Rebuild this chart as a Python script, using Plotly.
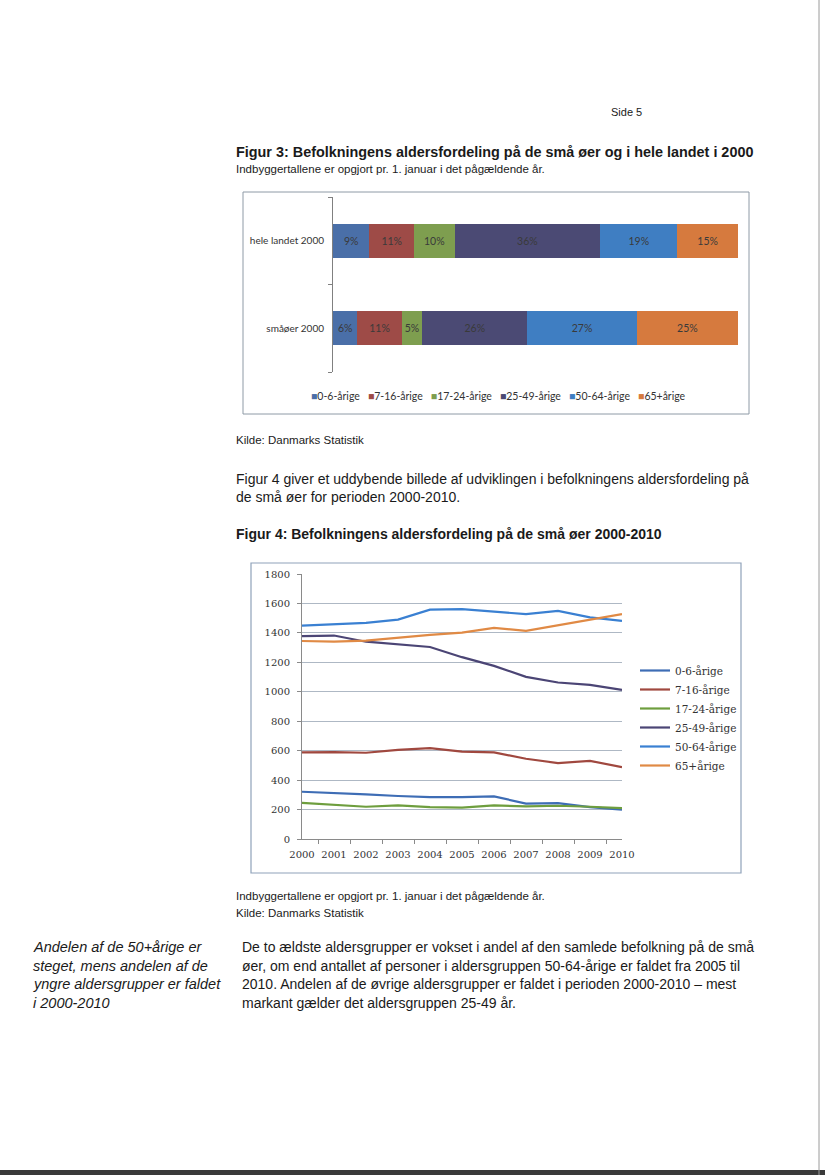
import plotly.graph_objects as go

W, H = 825, 1175

# ---- Figur 3 data ----
bar_categories = ["småøer 2000", "hele landet 2000"]
age_groups = ["0-6-årige", "7-16-årige", "17-24-årige", "25-49-årige", "50-64-årige", "65+årige"]
share_smaaoer = [6, 11, 5, 26, 27, 25]
share_hele_landet = [9, 11, 10, 36, 19, 15]
bar_colors = ["#4A6FA8", "#9E4B47", "#7E9E4F", "#4B4A74", "#3F7EC2", "#D67A3E"]

# ---- Figur 4 data ----
years = ["2000", "2001", "2002", "2003", "2004", "2005", "2006", "2007", "2008", "2009", "2010"]
v_0_6 = [321, 314, 303, 292, 285, 285, 290, 240, 244, 217, 199]
v_7_16 = [588, 590, 586, 606, 617, 593, 588, 545, 516, 531, 488]
v_17_24 = [246, 235, 219, 228, 217, 213, 228, 222, 226, 219, 210]
v_25_49 = [1378, 1382, 1340, 1324, 1304, 1235, 1176, 1101, 1063, 1047, 1013]
v_50_64 = [1450, 1460, 1468, 1490, 1558, 1562, 1545, 1527, 1550, 1505, 1482]
v_65 = [1345, 1340, 1348, 1368, 1386, 1402, 1434, 1414, 1452, 1488, 1527]
line_series = [v_0_6, v_7_16, v_17_24, v_25_49, v_50_64, v_65]
line_colors = ["#3E6DB5", "#A0483F", "#6E9E3E", "#4B4575", "#3A80D2", "#E08A45"]


def px(x):
    return x / W


def py(y):
    return 1 - y / H


fig = go.Figure()

# Figur 3 stacked bars
for i, g in enumerate(age_groups):
    vals = [share_smaaoer[i], share_hele_landet[i]]
    fig.add_trace(go.Bar(
        y=bar_categories, x=vals, orientation="h", name=g,
        marker=dict(color=bar_colors[i], line=dict(width=0)),
        text=[f"{v}%" for v in vals], textposition="inside",
        insidetextanchor="middle", textangle=0, constraintext="none",
        textfont=dict(family="Lato", size=10.5, color="#3a3a3a"),
        showlegend=False, xaxis="x", yaxis="y", hoverinfo="skip",
    ))

# Figur 4 lines
for i, g in enumerate(age_groups):
    fig.add_trace(go.Scatter(
        x=years, y=line_series[i], mode="lines", name=g,
        line=dict(color=line_colors[i], width=2.2),
        xaxis="x2", yaxis="y2", legend="legend2",
    ))

fig.update_layout(
    width=W, height=H,
    margin=dict(l=0, r=0, t=0, b=0, pad=0, autoexpand=False),
    paper_bgcolor="white", plot_bgcolor="white",
    barmode="stack", bargap=0.61,
    showlegend=True,
    xaxis=dict(domain=[px(333), px(738)], range=[0, 100], visible=False,
               fixedrange=True, automargin=False),
    yaxis=dict(domain=[py(372), py(197)], type="category", range=[-0.5, 1.5],
               tickson="boundaries", ticks="outside", ticklen=4, tickcolor="#808080",
               showline=True, linecolor="#808080", linewidth=1, showgrid=False,
               automargin=False, ticklabelstandoff=6,
               tickfont=dict(family="Lato", size=10, color="#333"), anchor="x"),
    xaxis2=dict(domain=[px(302), px(622)], type="category", anchor="y2",
                tickson="boundaries", ticks="outside", ticklen=4, tickcolor="#8a8a8a",
                showline=True, linecolor="#8a8a8a", linewidth=1, showgrid=False,
                tickangle=0, automargin=False, ticklabelstandoff=6,
                tickfont=dict(family="DejaVu Serif", size=10, color="#333")),
    yaxis2=dict(domain=[py(839), py(574)], range=[0, 1800], dtick=200, anchor="x2",
                ticks="outside", ticklen=4, tickcolor="#8a8a8a",
                showline=True, linecolor="#8a8a8a", linewidth=1, automargin=False,
                ticklabelstandoff=5,
                showgrid=True, gridcolor="#AEB8C4", gridwidth=1, zeroline=False,
                tickfont=dict(family="DejaVu Serif", size=10, color="#333")),
    legend2=dict(x=px(635), y=py(656), xanchor="left", yanchor="top",
                 bgcolor="rgba(0,0,0,0)", itemwidth=30,
                 font=dict(family="DejaVu Serif", size=10.5, color="#333"),
                 tracegroupgap=0),
)

# Legend for Figur 3 (text-based)
leg_parts = []
for g, c in zip(age_groups, bar_colors):
    leg_parts.append(f"<span style='color:{c}'>■</span>{g}")
fig.add_annotation(x=px(498), y=py(396), xref="paper", yref="paper",
                   text="   ".join(leg_parts), showarrow=False,
                   xanchor="center", yanchor="middle",
                   font=dict(family="Lato", size=10.5, color="#333"))

# Frames
fig.add_shape(type="rect", xref="paper", yref="paper",
              x0=px(243), x1=px(749), y0=py(414), y1=py(192),
              line=dict(color="#8E9AA6", width=1))
fig.add_shape(type="rect", xref="paper", yref="paper",
              x0=px(251), x1=px(741), y0=py(873), y1=py(563),
              line=dict(color="#8FA2BA", width=1.2))
# scan edges
fig.add_shape(type="rect", xref="paper", yref="paper",
              x0=0, x1=1, y0=0, y1=py(1170),
              line=dict(width=0), fillcolor="#3a3a3a")
fig.add_shape(type="line", xref="paper", yref="paper",
              x0=px(819), x1=px(819), y0=0, y1=1,
              line=dict(color="#9a9a9a", width=1))


def txt(x, y, s, size=10, bold=False, italic=False, family="Liberation Sans", color="#1a1a1a"):
    if bold:
        s = f"<b>{s}</b>"
    if italic:
        s = f"<i>{s}</i>"
    fig.add_annotation(x=px(x), y=py(y), xref="paper", yref="paper", text=s,
                       showarrow=False, xanchor="left", yanchor="middle",
                       font=dict(family=family, size=size, color=color))


txt(609, 112, "Side 5", size=11)
txt(234, 152, "Figur 3: Befolkningens aldersfordeling på de små øer og i hele landet i 2000", size=14.4, bold=True)
txt(234, 169, "Indbyggertallene er opgjort pr. 1. januar i det pågældende år.", size=11.5)
txt(234, 440, "Kilde: Danmarks Statistik", size=11.5)
txt(234, 479, "Figur 4 giver et uddybende billede af udviklingen i befolkningens aldersfordeling på", size=14)
txt(234, 497, "de små øer for perioden 2000-2010.", size=14)
txt(234, 534, "Figur 4: Befolkningens aldersfordeling på de små øer 2000-2010", size=14, bold=True)
txt(234, 896, "Indbyggertallene er opgjort pr. 1. januar i det pågældende år.", size=11.5)
txt(234, 913, "Kilde: Danmarks Statistik", size=11.5)

side = ["Andelen af de 50+årige er", "steget, mens andelen af de",
        "yngre aldersgrupper er faldet", "i 2000-2010"]
for i, s in enumerate(side):
    txt(31, 947 + i * 18.7, s, size=14.5, italic=True)

body = ["De to ældste aldersgrupper er vokset i andel af den samlede befolkning på de små",
        "øer, om end antallet af personer i aldersgruppen 50-64-årige er faldet fra 2005 til",
        "2010. Andelen af de øvrige aldersgrupper er faldet i perioden 2000-2010 – mest",
        "markant gælder det aldersgruppen 25-49 år."]
for i, s in enumerate(body):
    txt(240, 947 + i * 18.7, s, size=14)

fig.write_html(
    "out.html",
    config={"displayModeBar": False},
    post_script="document.body.style.margin='0';document.body.style.overflow='hidden';"
                "document.documentElement.style.overflow='hidden';",
)
